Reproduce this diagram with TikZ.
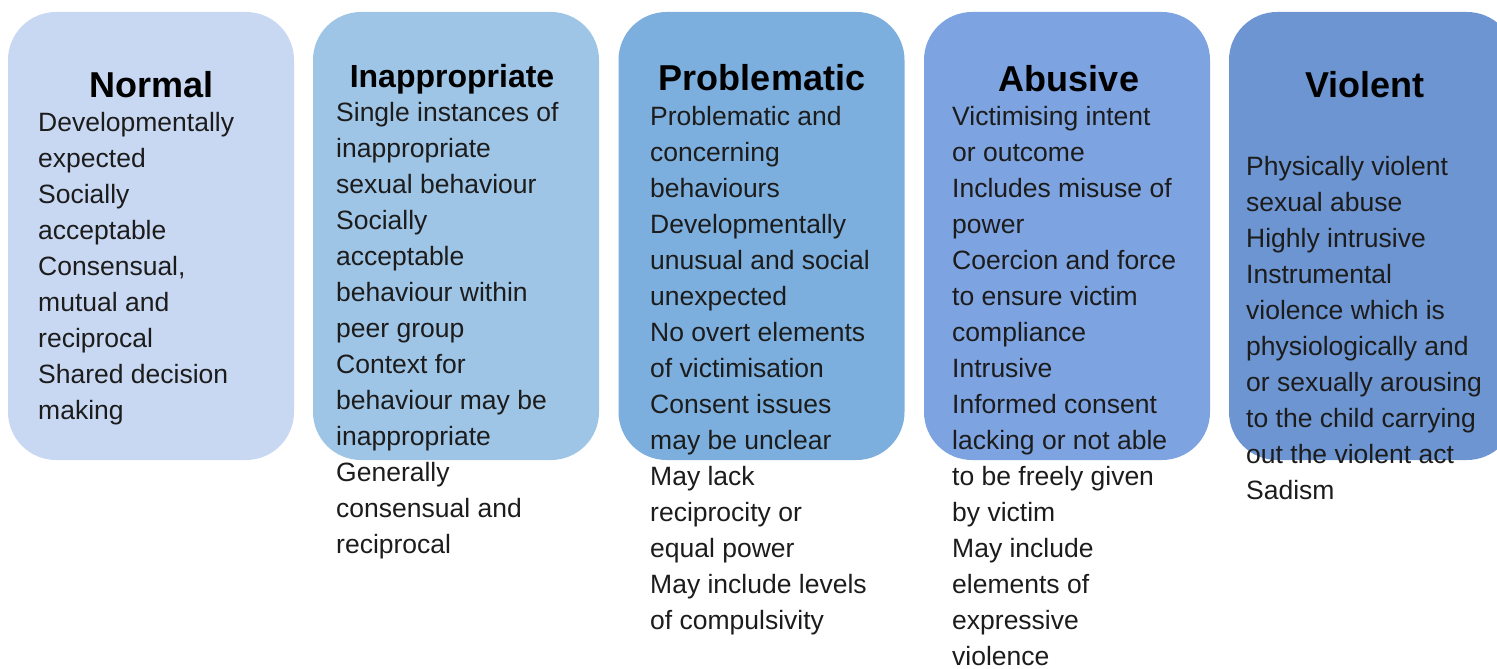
\documentclass[tikz,border=0pt]{standalone}
\usepackage{fontspec}
\setmainfont{Liberation Sans}
\definecolor{cnormal}{HTML}{C8D8F2}
\definecolor{cinappr}{HTML}{9EC4E6}
\definecolor{cproblem}{HTML}{7CAFDD}
\definecolor{cabusive}{HTML}{7DA3E0}
\definecolor{cviolent}{HTML}{6D95D1}
\definecolor{textgrey}{HTML}{1C1C1C}
\begin{document}
\begin{tikzpicture}[x=1pt,y=-1pt,
  box/.style={rounded corners=48pt,minimum width=286pt,minimum height=448pt,inner sep=0pt},
  ttl/.style={anchor=base,inner sep=0pt,font=\fontsize{36}{43}\bfseries},
  txt/.style={anchor=north west,inner sep=0pt,align=left,text=textgrey,font=\fontsize{26.5}{36}\selectfont}]
\useasboundingbox (0,0) rectangle (1497,669);
\clip (0,0) rectangle (1497,669);
% boxes
\node[box,fill=cnormal] (normal) at (151,236) {};
\node[box,fill=cinappr] (inappr) at (456,236) {};
\node[box,fill=cproblem] (problem) at (761.5,236) {};
\node[box,fill=cabusive] (abusive) at (1067,236) {};
\node[box,fill=cviolent] (violent) at (1372,236) {};
% titles
\node[ttl] (normal-t) at (152,97) {Normal};
\node[ttl,font=\fontsize{32}{38}\bfseries] (inappr-t) at (452,88) {Inappropriate};
\node[ttl] (problem-t) at (762,91) {Problematic};
\node[ttl] (abusive-t) at (1069,92) {Abusive};
\node[ttl] (violent-t) at (1365,97) {Violent};
% lists
\node[txt] (normal-l) at (38,105.8) {\strut Developmentally\\expected\\Socially\\acceptable\\Consensual,\\mutual and\\reciprocal\\Shared decision\\making};
\node[txt] (inappr-l) at (336,95.8) {\strut Single instances of\\inappropriate\\sexual behaviour\\Socially\\acceptable\\behaviour within\\peer group\\Context for\\behaviour may be\\inappropriate\\Generally\\consensual and\\reciprocal};
\node[txt] (problem-l) at (650,99.8) {\strut Problematic and\\concerning\\behaviours\\Developmentally\\unusual and social\\unexpected\\No overt elements\\of victimisation\\Consent issues\\may be unclear\\May lack\\reciprocity or\\equal power\\May include levels\\of compulsivity};
\node[txt] (abusive-l) at (952,99.8) {\strut Victimising intent\\or outcome\\Includes misuse of\\power\\Coercion and force\\to ensure victim\\compliance\\Intrusive\\Informed consent\\lacking or not able\\to be freely given\\by victim\\May include\\elements of\\expressive\\violence};
\node[txt] (violent-l) at (1246,149.8) {\strut Physically violent\\sexual abuse\\Highly intrusive\\Instrumental\\violence which is\\physiologically and\\or sexually arousing\\to the child carrying\\out the violent act\\Sadism};
\end{tikzpicture}
\end{document}
